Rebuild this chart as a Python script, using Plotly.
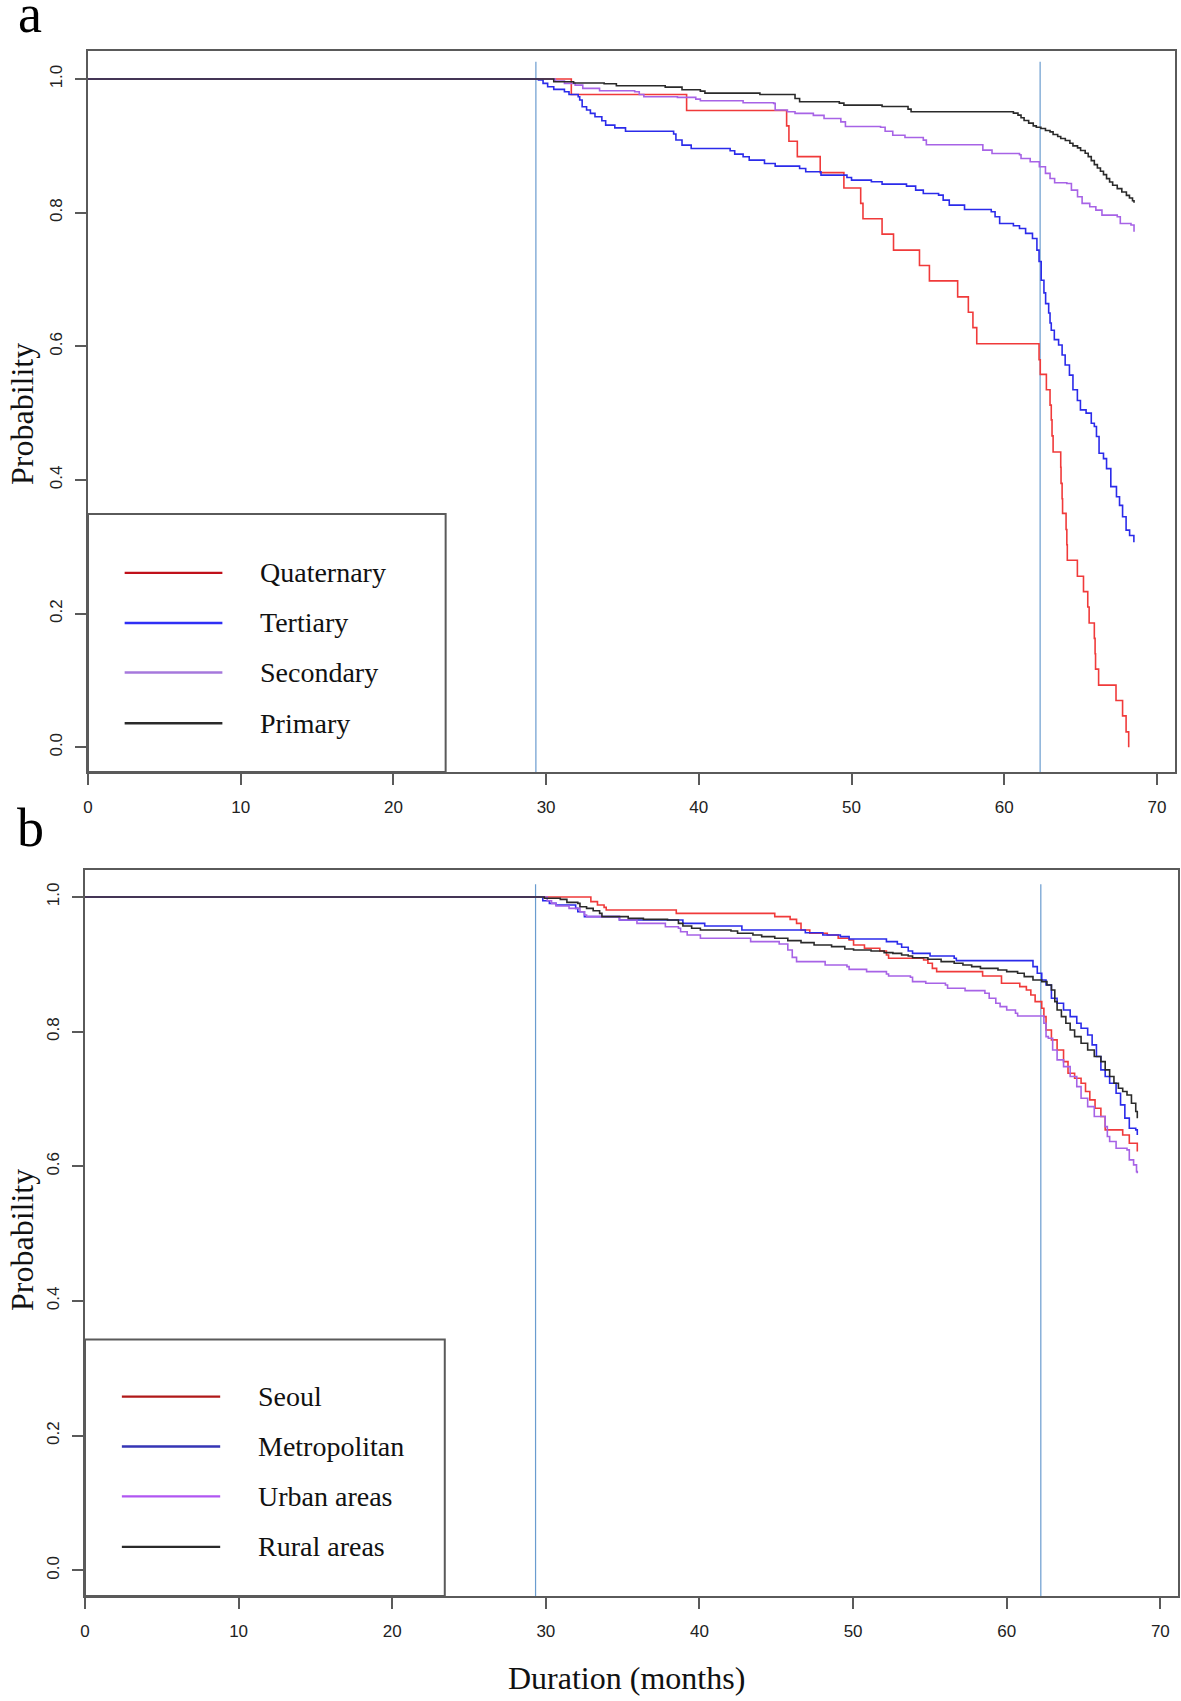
import plotly.graph_objects as go

# ---------------- data ----------------
X_TICKS = [0, 10, 20, 30, 40, 50, 60, 70]
Y_TICKS = [0.0, 0.2, 0.4, 0.6, 0.8, 1.0]
VLINES_A = [29.33, 62.35]
VLINES_B = [29.33, 62.22]

# Panel a
QUAT_T = [0, 31.65, 39.2, 45.75, 45.9, 46.45, 47.95, 49.5, 50.6, 50.75, 52.0, 52.75, 54.45, 55.1,
          56.95, 57.65, 57.95, 58.2, 62.28, 62.36, 62.76, 63.0, 63.08, 63.13, 63.2, 63.7, 63.72,
          63.79, 63.82, 64.05, 64.1, 64.13, 64.79, 65.19, 65.47, 65.56, 65.9, 65.95, 65.98, 66.18,
          67.32, 67.75, 67.98, 68.15]
QUAT_S = [1.0, 0.977, 0.953, 0.930, 0.907, 0.884, 0.860, 0.837, 0.814, 0.791, 0.768, 0.744, 0.721, 0.698,
          0.674, 0.651, 0.628, 0.604, 0.580, 0.558, 0.535, 0.512, 0.490, 0.466, 0.442, 0.419, 0.395,
          0.372, 0.350, 0.326, 0.303, 0.280, 0.256, 0.233, 0.210, 0.186, 0.163, 0.140, 0.117, 0.093,
          0.070, 0.047, 0.023, 0.0]

TERT_T = [0, 29.5, 29.8, 30.1, 30.5, 31.2, 31.5, 32.1, 32.2, 32.36, 32.65, 32.9, 33.2, 33.65, 33.9,
          34.5, 35.2, 38.35, 38.5, 38.9, 39.5, 42.05, 42.35, 42.9, 43.3, 44.3, 45.0, 46.6, 47.0, 48.0,
          49.7, 50.0, 51.3, 52.0, 53.6, 54.2, 54.7, 55.7, 56.0, 56.4, 57.4, 59.15, 59.4, 59.7, 60.6,
          61.0, 61.4, 61.85, 62.14, 62.28, 62.42, 62.6, 62.71, 62.91, 63.0, 63.08, 63.28, 63.56,
          63.79, 63.99, 64.27, 64.5, 64.79, 64.99, 65.36, 65.7, 65.9, 66.04, 66.21, 66.5, 66.7,
          66.98, 67.35, 67.55, 67.75, 67.98, 68.21, 68.49]
TERT_S = [1.0, 0.9985, 0.9935, 0.9886, 0.9846, 0.981, 0.977, 0.9736, 0.9686, 0.9586, 0.9536, 0.9486,
          0.9436, 0.9376, 0.931, 0.927, 0.922, 0.9177, 0.9087, 0.9012, 0.8962, 0.8927, 0.8877, 0.8837,
          0.8787, 0.8737, 0.8697, 0.8662, 0.8612, 0.8563, 0.8528, 0.8488, 0.8463, 0.8428, 0.8398,
          0.8338, 0.8288, 0.8263, 0.8189, 0.8114, 0.8049, 0.8014, 0.7939, 0.7839, 0.7804, 0.7764,
          0.769, 0.7615, 0.744, 0.727, 0.699, 0.680, 0.664, 0.650, 0.635, 0.624, 0.610, 0.602, 0.587,
          0.572, 0.557, 0.535, 0.519, 0.505, 0.500, 0.485, 0.480, 0.465, 0.440, 0.432, 0.417, 0.390,
          0.375, 0.362, 0.345, 0.325, 0.317, 0.307]

SEC_T = [0, 30.6, 31.2, 31.9, 32.4, 33.5, 35.8, 36.1, 36.4, 38.6, 39.8, 40.1, 42.9, 44.9, 45.0, 45.8,
         46.3, 47.5, 48.2, 49.3, 49.6, 51.9, 52.2, 52.7, 53.5, 54.7, 54.9, 58.6, 59.2, 61.0, 61.1,
         61.7, 62.3, 62.7, 63.0, 63.3, 64.1, 64.4, 64.8, 65.1, 65.6, 66.0, 66.4, 67.4, 67.6, 68.3, 68.5]
SEC_S = [1.0, 0.997, 0.9935, 0.991, 0.986, 0.9826, 0.981, 0.977, 0.9736, 0.9726, 0.970, 0.9676,
         0.9646, 0.9636, 0.9536, 0.951, 0.9486, 0.9456, 0.941, 0.936, 0.929, 0.928, 0.922, 0.916,
         0.9126, 0.9086, 0.9017, 0.8937, 0.8887, 0.8867, 0.8812, 0.8762, 0.8687, 0.8588, 0.8513,
         0.8448, 0.8438, 0.8338, 0.8238, 0.8139, 0.8089, 0.8039, 0.7964, 0.7939, 0.7839, 0.7815, 0.7715]

PRIM_T = [0, 30.5, 31.8, 33.8, 34.6, 37.8, 38.9, 40.1, 40.4, 44.0, 46.3, 46.6, 49.2, 49.5, 52.0, 53.7,
          53.9, 60.6, 60.9, 61.1, 61.3, 61.6, 61.9, 62.1, 62.4, 62.7, 63.0, 63.2, 63.5, 63.7, 64.0,
          64.3, 64.5, 64.8, 65.0, 65.3, 65.5, 65.7, 65.9, 66.1, 66.3, 66.5, 66.7, 66.9, 67.1, 67.4,
          67.7, 68.0, 68.2, 68.4, 68.5]
PRIM_S = [1.0, 0.996, 0.994, 0.993, 0.990, 0.988, 0.984, 0.982, 0.979, 0.977, 0.971, 0.966, 0.964,
          0.961, 0.959, 0.955, 0.951, 0.949, 0.946, 0.942, 0.938, 0.934, 0.930, 0.928, 0.926, 0.923,
          0.921, 0.917, 0.914, 0.911, 0.908, 0.904, 0.900, 0.897, 0.893, 0.889, 0.884, 0.878, 0.872,
          0.867, 0.862, 0.857, 0.851, 0.846, 0.841, 0.836, 0.831, 0.826, 0.822, 0.818, 0.815]

# Panel b
SEOUL_T = [0, 32.93, 33.36, 33.79, 33.93, 38.49, 44.9, 45.9, 46.32, 46.61, 47.18, 48.32, 49.03, 49.74,
           50.03, 50.74, 51.74, 52.17, 52.31, 54.59, 54.87, 55.16, 55.44, 58.43, 59.66, 60.85, 61.28,
           61.57, 61.85, 62.28, 62.42, 62.56, 62.91, 63.28, 63.7, 63.99, 64.42, 64.84, 65.13, 65.41,
           65.75, 66.13, 66.41, 67.55, 67.98, 68.5]
SEOUL_S = [1.0, 0.993, 0.988, 0.9845, 0.9806, 0.9756, 0.9707, 0.9667, 0.9608, 0.9509, 0.946, 0.9435,
           0.9386, 0.9361, 0.9287, 0.9237, 0.9198, 0.9138, 0.9089, 0.9064, 0.9015, 0.894, 0.8891,
           0.8827, 0.8718, 0.8669, 0.8619, 0.8545, 0.8446, 0.8347, 0.8223, 0.8025, 0.7877, 0.7728,
           0.7555, 0.7382, 0.7308, 0.7234, 0.711, 0.6986, 0.6862, 0.6739, 0.6541, 0.6466, 0.6343, 0.6219]

METRO_T = [0, 29.8, 30.23, 30.66, 31.94, 32.08, 32.51, 34.79, 38.92, 40.34, 42.76, 46.89, 48.03, 49.17,
           49.74, 52.17, 52.88, 53.16, 53.59, 53.87, 55.01, 56.58, 56.72, 61.71, 61.99, 62.28, 62.56,
           62.91, 63.28, 63.7, 64.13, 64.56, 64.84, 65.27, 65.56, 65.84, 66.13, 66.41, 66.7, 67.12,
           67.41, 67.69, 67.98, 68.4, 68.5]
METRO_S = [1.0, 0.9944, 0.9904, 0.988, 0.983, 0.9781, 0.9707, 0.9657, 0.9608, 0.9568, 0.9509, 0.9469,
           0.9435, 0.941, 0.9375, 0.9336, 0.9301, 0.9252, 0.9198, 0.9162, 0.9123, 0.9089, 0.9054,
           0.8965, 0.8866, 0.8767, 0.8693, 0.8495, 0.8421, 0.8322, 0.8223, 0.8124, 0.805, 0.7951,
           0.7803, 0.763, 0.7432, 0.7333, 0.7234, 0.7086, 0.6913, 0.6715, 0.6566, 0.6541, 0.6466]

URBAN_T = [0, 30.09, 30.37, 30.66, 31.51, 32.22, 32.51, 32.65, 34.79, 35.93, 37.78, 38.63, 38.77, 39.2,
           40.06, 43.33, 45.19, 45.75, 46.04, 46.32, 48.18, 49.6, 49.74, 50.88, 52.17, 52.31, 53.73,
           53.87, 54.73, 56.01, 56.15, 57.29, 58.58, 58.86, 59.29, 59.57, 60.0, 60.57, 60.71, 62.42,
           62.56, 62.71, 62.99, 63.28, 63.7, 64.13, 64.56, 64.84, 65.27, 65.7, 66.41, 66.55, 66.7,
           67.12, 67.83, 67.98, 68.26, 68.45, 68.5]
URBAN_S = [1.0, 0.9944, 0.9904, 0.9865, 0.983, 0.9781, 0.9731, 0.9707, 0.9657, 0.9608, 0.9558, 0.9534,
           0.9484, 0.9435, 0.9386, 0.9336, 0.9301, 0.9212, 0.9103, 0.9039, 0.899, 0.8965, 0.8925,
           0.8891, 0.8856, 0.8827, 0.8807, 0.8743, 0.8718, 0.8693, 0.8644, 0.8609, 0.8569, 0.8495,
           0.8421, 0.8371, 0.8322, 0.8272, 0.8233, 0.8124, 0.7926, 0.7902, 0.7728, 0.758, 0.7481,
           0.7333, 0.7184, 0.7011, 0.6887, 0.6739, 0.659, 0.6442, 0.6368, 0.6269, 0.6244, 0.6096,
           0.6021, 0.5922, 0.5898]

RURAL_T = [0, 29.9, 30.94, 31.37, 32.08, 32.22, 32.65, 33.08, 33.5, 33.65, 35.36, 36.35, 37.92, 38.63,
           38.92, 39.49, 40.06, 42.05, 42.48, 43.48, 44.05, 44.9, 45.75, 46.61, 47.46, 48.6, 49.46,
           50.03, 51.17, 52.02, 52.59, 53.16, 53.59, 53.87, 54.87, 55.73, 56.58, 57.15, 57.72, 58.29,
           59.43, 60.0, 60.71, 61.14, 61.71, 62.28, 62.62, 62.91, 63.13, 63.28, 63.56, 63.85, 64.13,
           64.42, 64.84, 65.27, 65.7, 66.13, 66.41, 66.7, 66.98, 67.27, 67.55, 67.83, 68.12, 68.4, 68.5]
RURAL_S = [1.0, 0.998, 0.9964, 0.9919, 0.9904, 0.9855, 0.983, 0.9795, 0.9756, 0.9707, 0.9682, 0.9667,
           0.9657, 0.9608, 0.9568, 0.9534, 0.9509, 0.9494, 0.946, 0.9435, 0.941, 0.9386, 0.9351,
           0.9321, 0.9287, 0.9262, 0.9227, 0.9212, 0.9198, 0.9173, 0.9162, 0.9138, 0.9123, 0.9098,
           0.9074, 0.9039, 0.9015, 0.899, 0.8965, 0.894, 0.8915, 0.8891, 0.8866, 0.8817, 0.8767,
           0.8742, 0.8693, 0.8619, 0.8446, 0.8322, 0.8223, 0.8124, 0.8025, 0.7926, 0.7827, 0.7728,
           0.763, 0.7555, 0.7432, 0.7333, 0.7234, 0.7159, 0.711, 0.706, 0.6936, 0.6813, 0.6714]

LABELS_A = ["Quaternary", "Tertiary", "Secondary", "Primary"]
LABELS_B = ["Seoul", "Metropolitan", "Urban areas", "Rural areas"]

# ---------------- styling ----------------
W, H = 1181, 1701
SERIF = "Liberation Serif, Times New Roman, serif"
SANS = "Liberation Sans, Arial, sans-serif"
BOX = "#5a5a5a"
CURVE_COLORS = ["#f03a3a", "#2b2bea", "#a763e6", "#2a2a2a"]
LEG_COLORS_A = ["#c0101a", "#2f2ff5", "#a678dc", "#2a2a2a"]
LEG_COLORS_B = ["#b01818", "#3535b5", "#b056f2", "#2a2a2a"]
VLINE_COLOR = "#6a9ccf"

series_a = [(QUAT_T, QUAT_S), (TERT_T, TERT_S), (SEC_T, SEC_S), (PRIM_T, PRIM_S)]
series_b = [(SEOUL_T, SEOUL_S), (METRO_T, METRO_S), (URBAN_T, URBAN_S), (RURAL_T, RURAL_S)]
for t, s in series_a + series_b:
    assert len(t) == len(s), (len(t), len(s))


def px_x(p):
    return p / W


def px_y(p):
    return 1 - p / H


fig = go.Figure()

panels = [
    dict(xa="x", ya="y", series=series_a, labels=LABELS_A, legc=LEG_COLORS_A, vl=VLINES_A,
         yr=[-0.037, 1.042], vtop=1.026, legtop=0.349, rows=[0.261, 0.186, 0.112, 0.036]),
    dict(xa="x2", ya="y2", series=series_b, labels=LABELS_B, legc=LEG_COLORS_B, vl=VLINES_B,
         yr=[-0.038, 1.040], vtop=1.019, legtop=0.343, rows=[0.258, 0.184, 0.110, 0.035]),
]

XR = [0, 71.15]
LEG_RIGHT = 23.42
LEG_LINE = (2.4, 8.8)
LEG_TEXT_X = 11.1

for p in panels:
    # vertical reference lines
    for v in p["vl"]:
        fig.add_trace(go.Scatter(x=[v, v], y=[p["vtop"], p["yr"][0]], mode="lines",
                                 line=dict(color=VLINE_COLOR, width=1.2),
                                 xaxis=p["xa"], yaxis=p["ya"], showlegend=False, hoverinfo="skip"))
    # survival curves
    for (t, s), c in zip(p["series"], CURVE_COLORS):
        fig.add_trace(go.Scatter(x=t, y=s, mode="lines", line=dict(color=c, width=1.6, shape="hv"),
                                 xaxis=p["xa"], yaxis=p["ya"], showlegend=False))
    # legend box
    fig.add_shape(type="rect", xref=p["xa"], yref=p["ya"], x0=XR[0], x1=LEG_RIGHT,
                  y0=p["yr"][0], y1=p["legtop"], line=dict(color=BOX, width=2),
                  fillcolor="white", layer="above")
    for lab, c, ry in zip(p["labels"], p["legc"], p["rows"]):
        fig.add_shape(type="line", xref=p["xa"], yref=p["ya"], x0=LEG_LINE[0], x1=LEG_LINE[1],
                      y0=ry, y1=ry, line=dict(color=c, width=2.4), layer="above")
        fig.add_annotation(xref=p["xa"], yref=p["ya"], x=LEG_TEXT_X, y=ry, text=lab,
                           showarrow=False, xanchor="left", yanchor="middle",
                           font=dict(family=SERIF, size=28, color="#111111"))

axis_common = dict(showline=True, linecolor=BOX, linewidth=2, mirror=True, ticks="outside",
                   ticklen=11, tickwidth=1.6, tickcolor=BOX, showgrid=False, zeroline=False,
                   automargin=False, tickfont=dict(family=SANS, size=17, color="#222222"))

fig.update_layout(
    width=W, height=H, margin=dict(l=0, r=0, t=0, b=0),
    paper_bgcolor="white", plot_bgcolor="white", showlegend=False,
    xaxis=dict(domain=[px_x(88), px_x(1174.5)], range=XR, tickvals=X_TICKS, anchor="y",
               ticklabelstandoff=8, **axis_common),
    yaxis=dict(domain=[px_y(772), px_y(51)], range=panels[0]["yr"], tickvals=Y_TICKS,
               tickformat=".1f", tickangle=-90, anchor="x", ticklabelstandoff=6, **axis_common),
    xaxis2=dict(domain=[px_x(85), px_x(1178)], range=XR, tickvals=X_TICKS, anchor="y2",
                ticklabelstandoff=8, **axis_common),
    yaxis2=dict(domain=[px_y(1596), px_y(870)], range=panels[1]["yr"], tickvals=Y_TICKS,
                tickformat=".1f", tickangle=-90, anchor="x2", ticklabelstandoff=6, **axis_common),
)

# panel letters, axis titles
fig.add_annotation(xref="paper", yref="paper", x=px_x(30), y=px_y(14), text="a", showarrow=False,
                   xanchor="center", yanchor="middle", font=dict(family=SERIF, size=54, color="#000000"))
fig.add_annotation(xref="paper", yref="paper", x=px_x(30), y=px_y(828), text="b", showarrow=False,
                   xanchor="center", yanchor="middle", font=dict(family=SERIF, size=54, color="#000000"))
for yc in (414, 1240):
    fig.add_annotation(xref="paper", yref="paper", x=px_x(22), y=px_y(yc), text="Probability",
                       showarrow=False, textangle=-90, xanchor="center", yanchor="middle",
                       font=dict(family=SERIF, size=32, color="#111111"))
fig.add_annotation(xref="paper", yref="paper", x=px_x(626), y=px_y(1678), text="Duration (months)",
                   showarrow=False, xanchor="center", yanchor="middle",
                   font=dict(family=SERIF, size=32, color="#111111"))

fig.write_html("out.html", config={"displayModeBar": False},
               post_script="document.body.style.margin='0px';document.body.style.overflow='hidden';")
